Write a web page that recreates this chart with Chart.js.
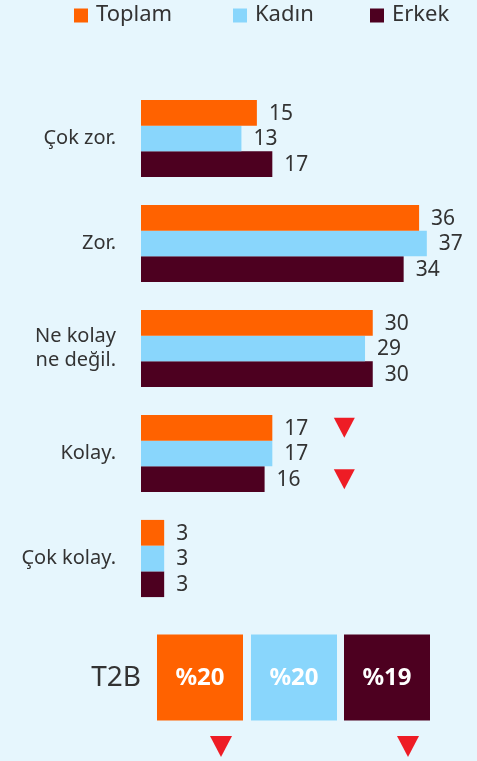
<!DOCTYPE html>
<html lang="tr">
<head>
<meta charset="utf-8">
<title>Zorluk algısı</title>
<script src="https://cdn.jsdelivr.net/npm/chart.js@4.4.1/dist/chart.umd.min.js"></script>
<style>
  html, body { margin: 0; padding: 0; background: #e6f6fd; }
  #kutu { position: relative; width: 477px; height: 761px; }
</style>
</head>
<body>
<div id="kutu"><canvas id="grafik"></canvas></div>
<script>
// Kategoriler ve seriler (%)
const kategoriler = ['Çok zor.', 'Zor.', ['Ne kolay', 'ne değil.'], 'Kolay.', 'Çok kolay.'];
const seriAdlari = ['Toplam', 'Kadın', 'Erkek'];
const renkler = ['#ff6200', '#89d6fc', '#4d0020'];
const toplam = [15, 36, 30, 17, 3];
const kadin = [13, 37, 29, 17, 3];
const erkek = [17, 34, 30, 16, 3];

// T2B özet kutuları (Toplam, Kadın, Erkek)
const t2b = [20, 20, 19];

// Düşüş işaretleri: [seri, kategori]
const dususler = [[0, 3], [2, 3]];
const t2bDusus = [true, false, true];

const yaziRengi = '#333333';
const kirmizi = '#ee1c25';
const font = '"Noto Sans", sans-serif';

// Aşağı bakan kırmızı üçgen
const ucgen = (ctx, cx, cy, w, h) => {
    ctx.beginPath();
    ctx.moveTo(cx - w / 2, cy - h / 2);
    ctx.lineTo(cx + w / 2, cy - h / 2);
    ctx.lineTo(cx, cy + h / 2);
    ctx.closePath();
    ctx.fillStyle = kirmizi;
    ctx.fill();
};

const ekler = {
    id: 'ekler',
    afterDatasetsDraw(chart) {
        const ctx = chart.ctx;
        const alan = chart.chartArea;
        ctx.save();

        // Çubuk değerleri
        ctx.font = '21px ' + font;
        ctx.fillStyle = yaziRengi;
        ctx.textAlign = 'left';
        ctx.textBaseline = 'middle';
        chart.data.datasets.forEach((ds, i) => {
            chart.getDatasetMeta(i).data.forEach((bar, j) => {
                ctx.fillText(ds.data[j], bar.x + 12, bar.y + 1);
            });
        });

        // Düşüş üçgenleri: kategorideki en uzun çubuğun biraz sağında
        dususler.forEach(([s, k]) => {
            const bar = chart.getDatasetMeta(s).data[k];
            const enUzun = Math.max(...chart.data.datasets.map(ds => ds.data[k]));
            const x = chart.scales.x.getPixelForValue(enUzun) + 72;
            ucgen(ctx, x, bar.y, 21, 20);
        });

        // Açıklama (legend)
        const legendX = [74, 233, 370];
        seriAdlari.forEach((ad, i) => {
            ctx.fillStyle = renkler[i];
            ctx.fillRect(legendX[i], 8.5, 14, 14);
            ctx.fillStyle = yaziRengi;
            ctx.font = '22px ' + font;
            ctx.textAlign = 'left';
            ctx.textBaseline = 'middle';
            ctx.fillText(ad, legendX[i] + 22, 15);
        });

        // T2B kutuları
        const ust = alan.bottom + 23.5;
        const boy = 86;
        const kutuX = [alan.left + 16, alan.left + 110, alan.left + 203];
        const orta = ust + boy / 2;
        ctx.fillStyle = yaziRengi;
        ctx.font = '28px ' + font;
        ctx.textAlign = 'right';
        ctx.fillText('T2B', alan.left, orta + 1);

        t2b.forEach((v, i) => {
            ctx.fillStyle = renkler[i];
            ctx.fillRect(kutuX[i], ust, boy, boy);
            ctx.fillStyle = '#ffffff';
            ctx.font = 'bold 24px ' + font;
            ctx.textAlign = 'center';
            ctx.fillText('%' + v, kutuX[i] + boy / 2, orta + 1);
            if (t2bDusus[i]) {
                ucgen(ctx, kutuX[i] + boy / 2 + 21, ust + boy + 26, 22, 21);
            }
        });
        ctx.restore();
    }
};

new Chart(document.getElementById('grafik'), {
    type: 'bar',
    data: {
        labels: kategoriler,
        datasets: [
            { label: seriAdlari[0], data: toplam, backgroundColor: renkler[0] },
            { label: seriAdlari[1], data: kadin, backgroundColor: renkler[1] },
            { label: seriAdlari[2], data: erkek, backgroundColor: renkler[2] }
        ]
    },
    options: {
        indexAxis: 'y',
        responsive: true,
        maintainAspectRatio: false,
        animation: false,
        datasets: { bar: { barPercentage: 1, categoryPercentage: 0.735 } },
        layout: { padding: { top: 86, bottom: 150, left: 0, right: 27 } },
        plugins: {
            legend: { display: false },
            tooltip: { enabled: false }
        },
        scales: {
            x: { display: false, min: 0, max: 40 },
            y: {
                grid: { display: false, drawTicks: false },
                border: { display: false },
                afterFit: (scale) => { scale.width = 141; },
                ticks: {
                    color: yaziRengi,
                    padding: 25,
                    font: { family: font, size: 20, lineHeight: 1.2 }
                }
            }
        }
    },
    plugins: [ekler]
});
</script>
</body>
</html>
